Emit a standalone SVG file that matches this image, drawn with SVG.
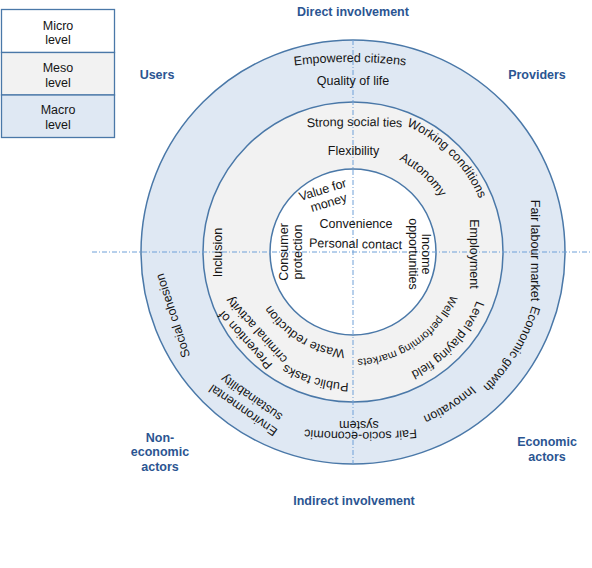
<svg xmlns="http://www.w3.org/2000/svg" xmlns:xlink="http://www.w3.org/1999/xlink" width="592" height="568" viewBox="0 0 592 568">
<style>
.t{font-family:"Liberation Sans",Arial,sans-serif;font-size:12.5px;fill:#151515}
.s{font-size:11px}
.m{text-anchor:middle}
.h{font-family:"Liberation Sans",Arial,sans-serif;font-size:12.5px;font-weight:bold;fill:#2b5592;text-anchor:middle}
.ring{stroke:#4a78a8;stroke-width:1.5}
.ax{stroke:#6fa0d8;stroke-width:1;stroke-dasharray:5 2 1 2;fill:none}
.lg{stroke:#4a78a8;stroke-width:1.3}
</style>
<defs>
<path id="c137" d="M 216 252 A 137 137 0 1 1 490 252 A 137 137 0 1 1 216 252"/>
<path id="c103" d="M 250 252 A 103 103 0 1 1 456 252 A 103 103 0 1 1 250 252"/>
<path id="c133" d="M 220 252 A 133 133 0 1 1 486 252 A 133 133 0 1 1 220 252"/>
<path id="c107" d="M 246 252 A 107 107 0 1 1 460 252 A 107 107 0 1 1 246 252"/>
<path id="c187" d="M 166 252 A 187 187 0 1 1 540 252 A 187 187 0 1 1 166 252"/>
<path id="c178" d="M 174.5 252 A 178.5 178.5 0 1 1 531.5 252 A 178.5 178.5 0 1 1 174.5 252"/>
<path id="c98" d="M 255 252 A 98 98 0 1 1 451 252 A 98 98 0 1 1 255 252"/>
<path id="c131" d="M 222 252 A 131 131 0 1 1 484 252 A 131 131 0 1 1 222 252"/>
<path id="pEmp" d="M 260 71.1 A 450 450 0 0 1 440 71.1"/>
<path id="pStr" d="M 264.5 130.5 A 900 900 0 0 1 444.5 130.5"/>
<path id="pFair" d="M 440.5 426.6 A 600 600 0 0 1 280.5 426.6"/>
</defs>

<g id="legend">
<rect class="lg" x="1.5" y="9.5" width="113" height="43" fill="#ffffff"/>
<rect class="lg" x="1.5" y="52.5" width="113" height="42.5" fill="#f2f2f2"/>
<rect class="lg" x="1.5" y="95" width="113" height="42.5" fill="#dfe8f3"/>
<text class="t m" x="58" y="29.5">Micro</text>
<text class="t m" x="58" y="44">level</text>
<text class="t m" x="58" y="72">Meso</text>
<text class="t m" x="58" y="86.5">level</text>
<text class="t m" x="58" y="113.5">Macro</text>
<text class="t m" x="58" y="128.5">level</text>
</g>

<g id="rings">
<circle id="macro-ring" class="ring" cx="353" cy="252" r="212" fill="#dfe8f3"/>
<circle id="meso-ring" class="ring" cx="353" cy="252" r="150" fill="#f2f2f2"/>
<circle id="micro-ring" class="ring" cx="353" cy="252" r="83" fill="#ffffff"/>
</g>

<g id="connectors">
<line class="ax" x1="92" y1="252" x2="592" y2="252"/>
<line class="ax" x1="353" y1="40" x2="353" y2="464"/>
</g>

<g id="headings">
<text class="h" x="353" y="16">Direct involvement</text>
<text class="h" x="354" y="505">Indirect involvement</text>
<text class="h" x="157" y="78.5">Users</text>
<text class="h" x="537" y="78.5">Providers</text>
<text class="h" x="160" y="441.5">Non-</text>
<text class="h" x="160" y="456">economic</text>
<text class="h" x="160" y="471">actors</text>
<text class="h" x="547" y="445.5">Economic</text>
<text class="h" x="547" y="460.5">actors</text>
</g>

<g id="macro-labels">
<text class="t m"><textPath xlink:href="#pEmp" href="#pEmp" startOffset="50%">Empowered citizens</textPath></text>
<text class="t m" x="353" y="84.5">Quality of life</text>
<text class="t m" transform="translate(535,250.5) rotate(90)" y="4">Fair labour market</text>
<text class="t m"><textPath xlink:href="#c187" href="#c187" startOffset="689.6">Economic growth</textPath></text>
<text class="t m"><textPath xlink:href="#c178" href="#c178" startOffset="740.2">Innovation</textPath></text>
<text class="t m"><textPath xlink:href="#pFair" href="#pFair" startOffset="50%">Fair socio-economic</textPath></text>
<text class="t m" transform="translate(359,420.5) rotate(180)">system</text>
<g transform="translate(247.6,403.6) rotate(-145)">
<text class="t m" y="-3.8">Environmental</text>
<text class="t m" y="11.2">sustainability</text>
</g>
<text class="t m" transform="translate(173,315.5) rotate(-108)" y="4">Social cohesion</text>
</g>

<g id="meso-labels">
<text class="t m"><textPath xlink:href="#pStr" href="#pStr" startOffset="50%">Strong social ties</textPath></text>
<text class="t m" x="353.5" y="155">Flexibility</text>
<text class="t m"><textPath xlink:href="#c137" href="#c137" startOffset="322.8">Working conditions</textPath></text>
<text class="t m"><textPath xlink:href="#c103" href="#c103" startOffset="237.3">Autonomy</textPath></text>
<text class="t m" transform="translate(473.5,254) rotate(90)" y="4">Employment</text>
<text class="t m"><textPath xlink:href="#c133" href="#c133" startOffset="517.1">Level playing field</textPath></text>
<text class="t s m"><textPath xlink:href="#c107" href="#c107" startOffset="439.8">Well performing markets</textPath></text>
<text class="t m"><textPath xlink:href="#c131" href="#c131" startOffset="654.8">Public tasks</textPath></text>
<text class="t m"><textPath xlink:href="#c98" href="#c98" startOffset="514">Waste reduction</textPath></text>
<g transform="translate(251.4,334.5) rotate(-132)">
<text class="t m" y="-4">Prevention of</text>
<text class="t m" y="11">criminal activity</text>
</g>
<text class="t m" transform="translate(218,252.5) rotate(-90)" y="4">Inclusion</text>
</g>

<g id="micro-labels">
<g transform="translate(325.7,196.3) rotate(-17)">
<text class="t m" x="-1" y="-3">Value for</text>
<text class="t m" x="1" y="11">money</text>
</g>
<text class="t m" x="356" y="228">Convenience</text>
<text class="t m" transform="translate(355.5,248) rotate(1.2)">Personal contact</text>
<g transform="translate(294.8,252) rotate(-90)">
<text class="t m" y="-6.8">Consumer</text>
<text class="t m" y="6.7">protection</text>
</g>
<g transform="translate(415.2,254) rotate(90)">
<text class="t m" y="-6.5">Income</text>
<text class="t m" y="6.5">opportunities</text>
</g>
</g>
</svg>
